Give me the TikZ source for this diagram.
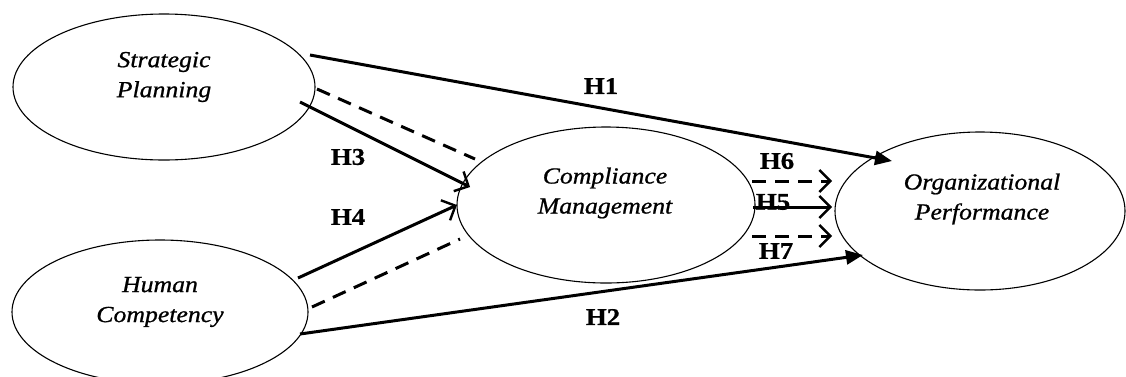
\documentclass[tikz,border=0pt]{standalone}
\usepackage{fontspec}
\setmainfont{Liberation Serif}
\newfontfamily\ellfont[FakeStretch=1.12,FakeBold=0.8]{Liberation Serif}
\newfontfamily\hypfont[FakeStretch=1.12,FakeBold=0.6]{Liberation Serif}
\usetikzlibrary{shapes.geometric,arrows.meta,calc}
\begin{document}
\begin{tikzpicture}[x=1pt,y=-1pt,
  latent/.style={draw,ellipse,line width=1.1pt,inner sep=0pt},
  ltext/.style={align=center,inner sep=0pt,font=\ellfont\itshape\fontsize{23}{30}\selectfont},
  hyp/.style={inner sep=0pt,font=\hypfont\bfseries\fontsize{24}{26}\selectfont},
  conn/.style={line width=3pt},
  openhead/.style={-{Straight Barb[length=11pt,width=22pt,line width=2.4pt]}},
  filledhead/.style={-{Triangle[length=17pt,width=14pt]}},
  dashline/.style={dash pattern=on 14pt off 9pt}]
\useasboundingbox (0,0) rectangle (1126,376);
\fill[white] (0,0) rectangle (1126,376);

% latent variables
\node[latent,minimum width=302pt,minimum height=146pt] (sp) at (164,87) {};
\node[latent,minimum width=296pt,minimum height=144pt] (hc) at (160,312) {};
\node[latent,minimum width=298pt,minimum height=156pt] (cm) at (606,205) {};
\node[latent,minimum width=290pt,minimum height=158pt] (op) at (980,211) {};

\node[ltext] (spt) at (164,77) {Strategic\\Planning};
\node[ltext] (hct) at (160,302) {Human\\Competency};
\node[ltext] (cmt) at (605,193) {Compliance\\Management};
\node[ltext] (opt) at (982,199) {Organizational\\Performance};

% hypothesis labels
\node[hyp] (h1) at (601,86) {H1};
\node[hyp] (h2) at (603,317) {H2};
\node[hyp] (h3) at (348,157) {H3};
\node[hyp] (h4) at (348,217) {H4};
\node[hyp] (h5) at (773,202) {H5};
\node[hyp] (h6) at (777,161) {H6};
\node[hyp] (h7) at (776,251) {H7};

% direct effects
\draw[conn,filledhead] ($(sp.center)+(146,-32)$) -- ($(op.center)+(-88,-50)$);
\draw[conn,filledhead] ($(hc.center)+(140,22)$) -- ($(op.center)+(-117,44)$);

% effects on compliance management
\draw[conn,openhead] ($(sp.center)+(136,15)$) -- ($(cm.center)+(-136,-18)$);
\draw[conn,openhead] ($(hc.center)+(138,-34)$) -- ($(cm.center)+(-149,0)$);
\draw[conn,dashline] ($(sp.center)+(153,2)$) -- ($(cm.center)+(-131,-46)$);
\draw[conn,dashline] ($(hc.center)+(152,-5)$) -- ($(cm.center)+(-146,34)$);

% compliance management to performance
\draw[conn,dashline,openhead] ($(cm.center)+(146,-24)$) -- ($(op.center)+(-148,-30)$);
\draw[conn,openhead] ($(cm.center)+(147,2)$) -- ($(op.center)+(-148,-4)$);
\draw[conn,dashline,openhead] ($(cm.center)+(146,31)$) -- ($(op.center)+(-148,25)$);
\end{tikzpicture}
\end{document}
